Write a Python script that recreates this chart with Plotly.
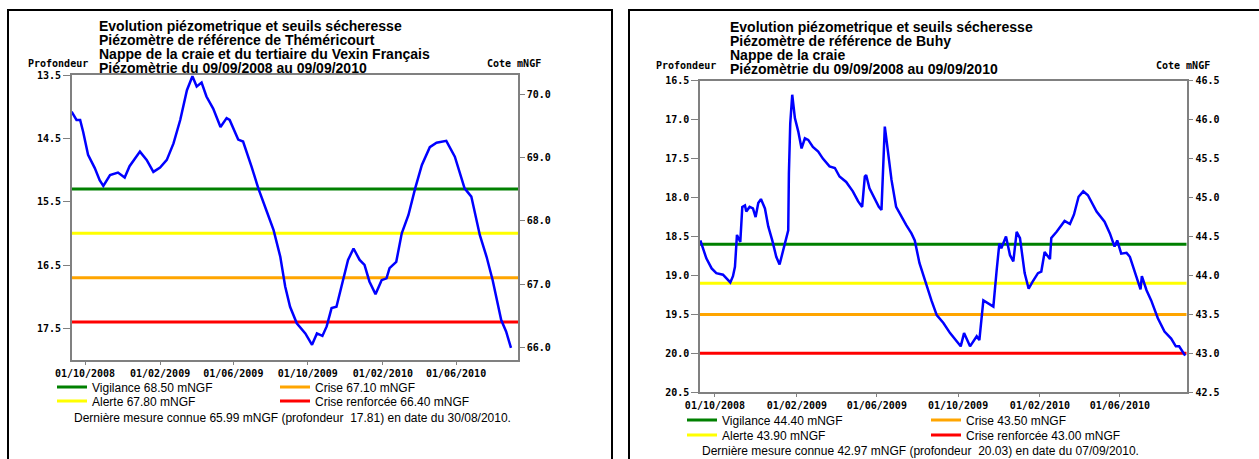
import plotly.graph_objects as go

W, H = 1259, 459

# ---------------- data: left panel (Théméricourt) ----------------
t_dates = ["2008-09-09", "2008-09-17", "2008-09-23", "2008-09-28", "2008-10-06", "2008-10-17",
           "2008-10-25", "2008-10-31", "2008-11-11", "2008-11-24", "2008-12-05", "2008-12-13",
           "2008-12-30", "2009-01-10", "2009-01-21", "2009-02-01", "2009-02-12", "2009-02-23",
           "2009-03-06", "2009-03-17", "2009-03-26", "2009-04-02", "2009-04-10", "2009-04-18",
           "2009-04-29", "2009-05-11", "2009-05-21", "2009-05-26", "2009-06-09", "2009-06-17",
           "2009-07-01", "2009-07-12", "2009-07-26", "2009-08-06", "2009-08-17", "2009-08-25",
           "2009-09-02", "2009-09-13", "2009-09-27", "2009-10-08", "2009-10-16", "2009-10-25",
           "2009-11-01", "2009-11-09", "2009-11-17", "2009-11-28", "2009-12-06", "2009-12-15",
           "2009-12-25", "2010-01-02", "2010-01-10", "2010-01-20", "2010-01-30", "2010-02-07",
           "2010-02-12", "2010-02-23", "2010-03-04", "2010-03-15", "2010-03-26", "2010-04-06",
           "2010-04-19", "2010-04-30", "2010-05-16", "2010-05-30", "2010-06-15", "2010-06-26",
           "2010-07-10", "2010-07-21", "2010-07-31", "2010-08-14", "2010-08-22", "2010-08-30"]
t_depth = [14.08, 14.21, 14.21, 14.40, 14.76, 14.97,
           15.16, 15.25, 15.08, 15.04, 15.12, 14.94,
           14.71, 14.84, 15.03, 14.96, 14.84, 14.58,
           14.21, 13.74, 13.52, 13.68, 13.62, 13.84,
           14.03, 14.32, 14.18, 14.21, 14.52, 14.55,
           14.95, 15.29, 15.66, 15.95, 16.37, 16.84,
           17.16, 17.42, 17.58, 17.76, 17.58, 17.62,
           17.47, 17.18, 17.16, 16.74, 16.42, 16.24,
           16.42, 16.50, 16.76, 16.96, 16.74, 16.71,
           16.55, 16.45, 16.00, 15.71, 15.29, 14.92,
           14.64, 14.57, 14.54, 14.79, 15.29, 15.42,
           16.03, 16.37, 16.74, 17.37, 17.55, 17.81]
T_REF = 83.80
t_levels = [68.50, 67.80, 67.10, 66.40]
t_names = ["Vigilance 68.50 mNGF", "Alerte 67.80 mNGF", "Crise 67.10 mNGF", "Crise renforcée 66.40 mNGF"]
t_titles = ["Evolution piézometrique et seuils sécheresse",
            "Piézomètre de référence de Théméricourt",
            "Nappe de la craie et du tertiaire du Vexin Français",
            "Piézomètrie du 09/09/2008 au 09/09/2010"]
t_last = "Dernière mesure connue 65.99 mNGF (profondeur  17.81) en date du 30/08/2010."
t_depth_ticks = [13.5, 14.5, 15.5, 16.5, 17.5]
t_cote_ticks = [66.0, 67.0, 68.0, 69.0, 70.0]

# ---------------- data: right panel (Buhy) ----------------
b_dates = ["2008-09-09", "2008-09-13", "2008-09-18", "2008-09-26", "2008-10-03", "2008-10-13",
           "2008-10-19", "2008-10-24", "2008-10-28", "2008-10-31", "2008-11-03", "2008-11-08",
           "2008-11-11", "2008-11-15", "2008-11-17", "2008-11-22", "2008-11-27", "2008-12-01",
           "2008-12-05", "2008-12-09", "2008-12-15", "2008-12-20", "2008-12-26", "2009-01-01",
           "2009-01-06", "2009-01-11", "2009-01-16", "2009-01-19", "2009-01-20", "2009-01-22",
           "2009-01-25", "2009-01-29", "2009-02-03", "2009-02-08", "2009-02-13", "2009-02-18",
           "2009-02-25", "2009-03-05", "2009-03-12", "2009-03-22", "2009-03-30", "2009-04-06",
           "2009-04-16", "2009-04-26", "2009-05-04", "2009-05-10", "2009-05-14", "2009-05-16",
           "2009-05-21", "2009-05-29", "2009-06-04", "2009-06-08", "2009-06-10", "2009-06-13",
           "2009-06-15", "2009-06-18", "2009-06-23", "2009-06-30", "2009-07-08", "2009-07-15",
           "2009-07-23", "2009-07-28", "2009-08-04", "2009-08-14", "2009-08-22", "2009-08-30",
           "2009-09-09", "2009-09-19", "2009-09-29", "2009-10-05", "2009-10-10", "2009-10-19",
           "2009-10-29", "2009-11-02", "2009-11-08", "2009-11-23", "2009-11-28", "2009-12-02",
           "2009-12-05", "2009-12-12", "2009-12-18", "2009-12-23", "2009-12-28", "2010-01-02",
           "2010-01-09", "2010-01-15", "2010-01-21", "2010-01-29", "2010-02-03", "2010-02-08",
           "2010-02-16", "2010-02-18", "2010-02-26", "2010-03-10", "2010-03-18", "2010-03-24",
           "2010-03-31", "2010-04-07", "2010-04-14", "2010-04-27", "2010-05-09", "2010-05-17",
           "2010-05-24", "2010-05-28", "2010-06-03", "2010-06-11", "2010-06-16", "2010-06-23",
           "2010-07-02", "2010-07-04", "2010-07-11", "2010-07-18", "2010-07-28", "2010-08-07",
           "2010-08-17", "2010-08-24", "2010-08-29", "2010-09-07"]
b_depth = [18.55, 18.65, 18.78, 18.91, 18.97, 18.99,
           19.04, 19.09, 19.01, 18.89, 18.48, 18.57,
           18.12, 18.10, 18.18, 18.12, 18.14, 18.25,
           18.07, 18.02, 18.14, 18.37, 18.55, 18.76,
           18.86, 18.70, 18.55, 18.42, 17.69, 17.05,
           16.68, 16.98, 17.15, 17.37, 17.24, 17.26,
           17.35, 17.41, 17.50, 17.60, 17.62, 17.73,
           17.80, 17.92, 18.05, 18.12, 17.73, 17.71,
           17.88, 18.03, 18.12, 18.16, 17.69, 17.09,
           17.22, 17.43, 17.77, 18.12, 18.25, 18.35,
           18.46, 18.55, 18.84, 19.12, 19.32, 19.51,
           19.61, 19.74, 19.85, 19.91, 19.74, 19.91,
           19.78, 19.83, 19.32, 19.40, 18.93, 18.59,
           18.65, 18.50, 18.74, 18.82, 18.44, 18.52,
           18.97, 19.17, 19.08, 18.97, 18.95, 18.70,
           18.79, 18.52, 18.44, 18.30, 18.34, 18.22,
           17.99, 17.92, 17.97, 18.18, 18.31, 18.46,
           18.63, 18.55, 18.72, 18.71, 18.76, 18.95,
           19.18, 19.01, 19.19, 19.32, 19.55, 19.72,
           19.81, 19.91, 19.91, 20.03]
B_REF = 63.00
b_levels = [44.40, 43.90, 43.50, 43.00]
b_names = ["Vigilance 44.40 mNGF", "Alerte 43.90 mNGF", "Crise 43.50 mNGF", "Crise renforcée 43.00 mNGF"]
b_titles = ["Evolution piézometrique et seuils sécheresse",
            "Piézomètre de référence de Buhy",
            "Nappe de la craie",
            "Piézomètrie du 09/09/2008 au 09/09/2010"]
b_last = "Dernière mesure connue 42.97 mNGF (profondeur  20.03) en date du 07/09/2010."
b_depth_ticks = [16.5, 17.0, 17.5, 18.0, 18.5, 19.0, 19.5, 20.0, 20.5]
b_cote_ticks = [42.5, 43.0, 43.5, 44.0, 44.5, 45.0, 45.5, 46.0, 46.5]

tick_dates = ["2008-10-01", "2009-02-01", "2009-06-01", "2009-10-01", "2010-02-01", "2010-06-01"]
tick_labels = ["01/10/2008", "01/02/2009", "01/06/2009", "01/10/2009", "01/02/2010", "01/06/2010"]

level_colors = ["#008000", "#FFFF00", "#FFA500", "#FF0000"]

# ---------------- helpers ----------------
def px(x):
    return x / W

def py(y):
    return 1 - y / H

MONO = dict(family="DejaVu Sans Mono", size=10, color="black", weight="bold")
SANS = "Liberation Sans, Arial, sans-serif"
AXC = "#808080"

fig = go.Figure()

panels = [
    dict(dates=t_dates, depth=t_depth, ref=T_REF, levels=t_levels, names=t_names,
         titles=t_titles, last=t_last, dticks=t_depth_ticks, cticks=t_cote_ticks,
         xr=["2008-09-09 12:00", "2010-09-10 12:00"], drange=[18.0, 13.5],
         xa="x", ya="y", ya2="y2", xdom=[71.9, 518.0], ydom=[75.0, 360.0],
         title_x=97, title_y=[26, 40, 54, 68], leg_x=[92, 315], leg_y=[387, 401], last_y=418,
         box=[8, 612]),
    dict(dates=b_dates, depth=b_depth, ref=B_REF, levels=b_levels, names=b_names,
         titles=b_titles, last=b_last, dticks=b_depth_ticks, cticks=b_cote_ticks,
         xr=["2008-09-08 12:00", "2010-09-09 08:00"], drange=[20.5, 16.5],
         xa="x2", ya="y3", ya2="y4", xdom=[700.0, 1186.7], ydom=[80.7, 392.3],
         title_x=728, title_y=[27, 41, 55, 69], leg_x=[722, 966], leg_y=[420, 435], last_y=451,
         box=[629, 1300]),
]

layout = dict(width=W, height=H, margin=dict(l=0, r=0, t=0, b=0, pad=0, autoexpand=False),
              paper_bgcolor="white", plot_bgcolor="white", showlegend=True,
              annotations=[], shapes=[])

leg_idx = 0
for p_i, p in enumerate(panels):
    # threshold lines (converted from mNGF to depth)
    for k, (lev, name, col) in enumerate(zip(p["levels"], p["names"], level_colors)):
        leg_idx += 1
        lname = "legend" if leg_idx == 1 else f"legend{leg_idx}"
        d = round(p["ref"] - lev, 2)
        fig.add_trace(go.Scatter(x=p["xr"], y=[d, d], mode="lines", name=name,
                                 line=dict(color=col, width=3), xaxis=p["xa"], yaxis=p["ya"],
                                 legend=lname, hoverinfo="skip"))
        col_i = 0 if k < 2 else 1
        row_i = k % 2
        layout[lname] = dict(x=px(p["leg_x"][col_i] - 40), y=py(p["leg_y"][row_i]),
                             xanchor="left", yanchor="middle", bgcolor="rgba(0,0,0,0)",
                             borderwidth=0, font=dict(family=SANS, size=12, color="black"),
                             itemwidth=30, tracegroupgap=0)
    # measured curve
    fig.add_trace(go.Scatter(x=p["dates"], y=p["depth"], mode="lines", showlegend=False,
                             line=dict(color="#0000FF", width=2.5), xaxis=p["xa"], yaxis=p["ya"]))
    # dummy on cote axis so it is drawn
    fig.add_trace(go.Scatter(x=[p["xr"][0]], y=[p["ref"] - p["drange"][0]], mode="markers",
                             marker=dict(opacity=0), showlegend=False, hoverinfo="skip",
                             xaxis=p["xa"], yaxis=p["ya2"]))

    xkey = "xaxis" if p["xa"] == "x" else "xaxis2"
    ykey = "yaxis" if p["ya"] == "y" else "yaxis3"
    y2key = "yaxis2" if p["ya2"] == "y2" else "yaxis4"
    xdom = [px(p["xdom"][0]), px(p["xdom"][1])]
    ydom = [py(p["ydom"][1]), py(p["ydom"][0])]
    layout[xkey] = dict(domain=xdom, range=p["xr"], anchor=p["ya"], type="date",
                        tickvals=tick_dates, ticktext=tick_labels, ticks="outside", ticklen=3,
                        tickcolor=AXC, tickwidth=1, showline=True, linecolor=AXC, linewidth=1.5,
                        mirror=True, showgrid=False, zeroline=False, tickfont=MONO, tickangle=0)
    layout[ykey] = dict(domain=ydom, range=p["drange"], anchor=p["xa"],
                        tickvals=p["dticks"], ticktext=[f"{v:.1f}" for v in p["dticks"]],
                        ticks="outside", ticklen=7, tickcolor=AXC, tickwidth=1,
                        showline=True, linecolor=AXC, linewidth=1.5, showgrid=False,
                        zeroline=False, tickfont=MONO)
    layout[y2key] = dict(overlaying=p["ya"], side="right", anchor=p["xa"],
                         range=[p["ref"] - p["drange"][0], p["ref"] - p["drange"][1]],
                         tickvals=p["cticks"], ticktext=[f"{v:.1f}" for v in p["cticks"]],
                         ticks="outside", ticklen=5, tickcolor=AXC, tickwidth=1,
                         showline=True, linecolor=AXC, linewidth=1.5, showgrid=False,
                         zeroline=False, tickfont=MONO)

    # titles
    for line, yy in zip(p["titles"], p["title_y"]):
        layout["annotations"].append(dict(text=line, x=px(p["title_x"]), y=py(yy),
                                          xref="paper", yref="paper", xanchor="left",
                                          yanchor="middle", showarrow=False,
                                          font=dict(family=SANS, size=14, color="black",
                                                    weight="bold")))
    # axis captions
    layout["annotations"].append(dict(text="Profondeur", x=px(p["xdom"][0] + 18), y=py(p["title_y"][3] - 4),
                                      xref="paper", yref="paper", xanchor="right", yanchor="middle",
                                      showarrow=False, font=MONO))
    layout["annotations"].append(dict(text="Cote mNGF", x=px(p["xdom"][1] + 25), y=py(p["title_y"][3] - 4),
                                      xref="paper", yref="paper", xanchor="right", yanchor="middle",
                                      showarrow=False, font=MONO))
    # last measure
    layout["annotations"].append(dict(text=p["last"], x=px(p["xdom"][0]), y=py(p["last_y"]),
                                      xref="paper", yref="paper", xanchor="left", yanchor="middle",
                                      showarrow=False,
                                      font=dict(family=SANS, size=12, color="black")))
    # panel frame
    layout["shapes"].append(dict(type="rect", xref="paper", yref="paper",
                                 x0=px(p["box"][0]), x1=px(p["box"][1]),
                                 y0=-0.2, y1=py(10), line=dict(color="black", width=2)))

fig.update_layout(**layout)

fig.write_html("out.html", config={"displayModeBar": False},
               post_script="document.body.style.margin='0';document.body.style.overflow='hidden';")
